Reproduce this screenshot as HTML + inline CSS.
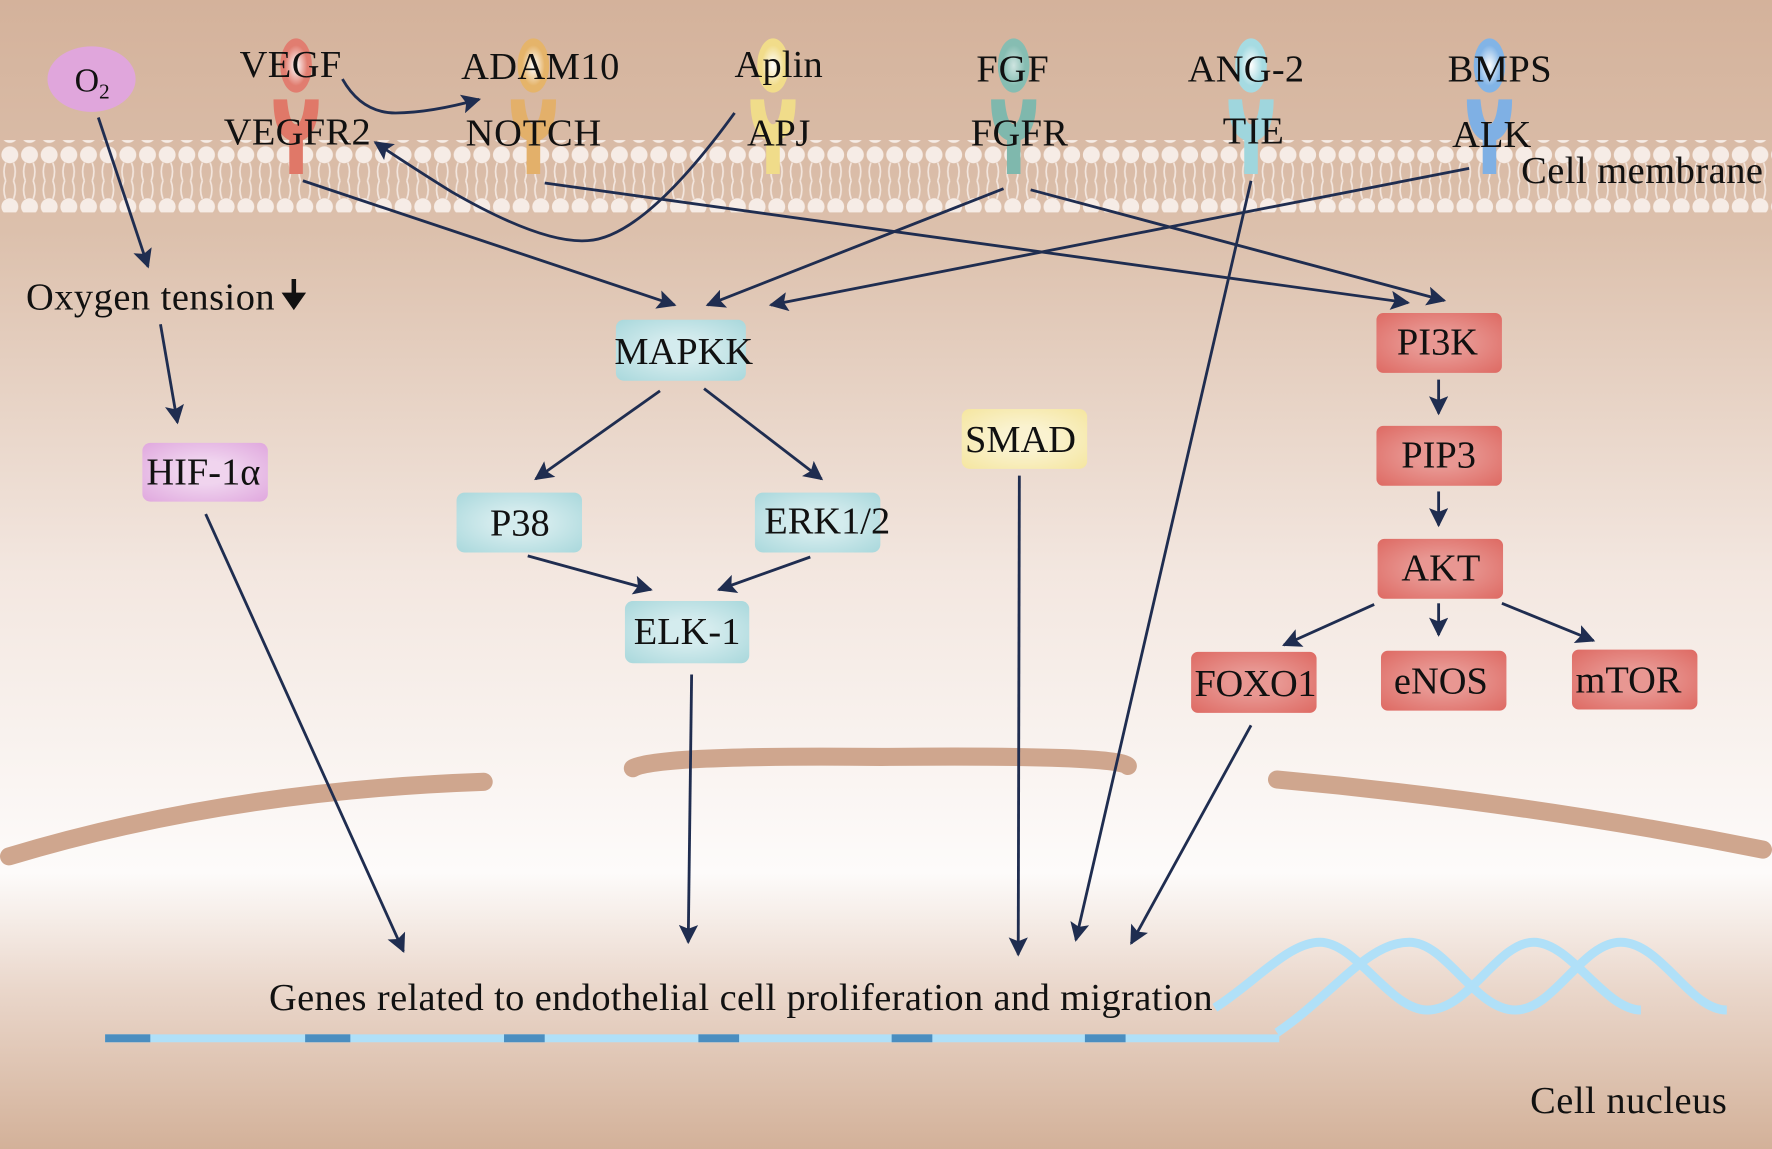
<!DOCTYPE html>
<html><head><meta charset="utf-8"><style>
html,body{margin:0;padding:0;}
svg{display:block;}
text{font-family:"Liberation Serif",serif;fill:#111;}
</style></head><body>
<svg width="1772" height="1149" viewBox="0 0 1568 1017" preserveAspectRatio="none" xmlns="http://www.w3.org/2000/svg">
<defs>
<linearGradient id="bg" x1="0" y1="0" x2="0" y2="1">
<stop offset="0" stop-color="#d4b29b"/>
<stop offset="0.2" stop-color="#dcc0ac"/>
<stop offset="0.5" stop-color="#f3e7e0"/>
<stop offset="0.76" stop-color="#fdfbfa"/>
<stop offset="0.86" stop-color="#ead7cb"/>
<stop offset="1" stop-color="#d3b199"/>
</linearGradient>
<pattern id="mem" x="0" y="0" width="17.4" height="64" patternUnits="userSpaceOnUse">
<circle cx="8.7" cy="9" r="7.5" fill="#f6ece6"/>
<circle cx="8.7" cy="55" r="7.5" fill="#f6ece6"/>
<path d="M5 16 q-3 8 0 16 M12 16 q3 8 0 16 M5 48 q-3 -8 0 -16 M12 48 q3 -8 0 -16" stroke="#f3e6de" stroke-width="1.5" fill="none"/>
</pattern>
<radialGradient id="box" cx="0.5" cy="0.5" r="0.7">
<stop offset="0.3" stop-color="#fff" stop-opacity="0.5"/>
<stop offset="1" stop-color="#fff" stop-opacity="0"/>
</radialGradient>
<radialGradient id="lig" cx="0.5" cy="0.5" r="0.5">
<stop offset="0" stop-color="#fff"/>
<stop offset="1" stop-color="#fff" stop-opacity="0"/>
</radialGradient>
<marker id="A" viewBox="0 0 10 10" refX="9" refY="5" markerWidth="20" markerHeight="17" orient="auto" markerUnits="userSpaceOnUse">
<path d="M0,0 L10,5 L0,10 L2,5 z" fill="#1f2d50"/>
</marker>
</defs>
<rect width="1568" height="1017" fill="url(#bg)"/>
<rect x="0" y="124" width="1568" height="64" fill="url(#mem)"/>

<!-- nucleus envelope -->
<g stroke="#cfa68e" stroke-width="16" stroke-linecap="round" fill="none">
<path d="M8 758 Q200 700 428 692"/>
<path d="M560 680 Q580 668 780 670 Q990 668 998 678"/>
<path d="M1130 690 Q1350 710 1560 752"/>
</g>

<!-- DNA -->
<g fill="none" stroke="#b0e0f8" stroke-width="8">
<path d="M1075 892 C1110 870,1140 834,1168 834 C1200 834,1230 894,1263 894 C1300 894,1325 834,1357 834 C1390 834,1420 894,1452 894"/>
<path d="M1130 914 C1180 880,1210 834,1247 834 C1280 834,1305 894,1341 894 C1375 894,1400 834,1434 834 C1470 834,1495 894,1528 894"/>
</g>
<line x1="93" y1="919" x2="1132" y2="919" stroke="#b0e0f8" stroke-width="7"/>
<g fill="#4b8ec0">
<rect x="93" y="915.5" width="40" height="7"/><rect x="270" y="915.5" width="40" height="7"/><rect x="446" y="915.5" width="36" height="7"/><rect x="618" y="915.5" width="36" height="7"/><rect x="789" y="915.5" width="36" height="7"/><rect x="960" y="915.5" width="36" height="7"/>
</g>

<!-- receptors -->
<g>
<g transform="translate(262,0)"><ellipse cx="0" cy="58" rx="14" ry="24" fill="#e17d70"/><ellipse cx="0" cy="58" rx="10" ry="18" fill="url(#lig)"/><path d="M-20 88 h12 q2 22 8 22 q6 0 8 -22 h12 q0 30 -14 36 v30 h-12 v-30 q-14 -6 -14 -36z" fill="#e07868"/></g>
<g transform="translate(472,0)"><ellipse cx="0" cy="58" rx="14" ry="24" fill="#e5b46a"/><ellipse cx="0" cy="58" rx="10" ry="18" fill="url(#lig)"/><path d="M-20 88 h12 q2 22 8 22 q6 0 8 -22 h12 q0 30 -14 36 v30 h-12 v-30 q-14 -6 -14 -36z" fill="#e3b06a"/></g>
<g transform="translate(684,0)"><ellipse cx="0" cy="58" rx="14" ry="24" fill="#f1dc8a"/><ellipse cx="0" cy="58" rx="10" ry="18" fill="url(#lig)"/><path d="M-20 88 h12 q2 22 8 22 q6 0 8 -22 h12 q0 30 -14 36 v30 h-12 v-30 q-14 -6 -14 -36z" fill="#f0dc8a"/></g>
<g transform="translate(897,0)"><ellipse cx="0" cy="58" rx="14" ry="24" fill="#86bdb2"/><ellipse cx="0" cy="58" rx="10" ry="18" fill="url(#lig)" opacity="0.6"/><path d="M-20 88 h12 q2 22 8 22 q6 0 8 -22 h12 q0 30 -14 36 v30 h-12 v-30 q-14 -6 -14 -36z" fill="#7fb8ad"/></g>
<g transform="translate(1107,0)"><ellipse cx="0" cy="58" rx="14" ry="24" fill="#a6dbe2"/><ellipse cx="0" cy="58" rx="10" ry="18" fill="url(#lig)"/><path d="M-20 88 h12 q2 22 8 22 q6 0 8 -22 h12 q0 30 -14 36 v30 h-12 v-30 q-14 -6 -14 -36z" fill="#9fd6dd"/></g>
<g transform="translate(1318,0)"><ellipse cx="0" cy="58" rx="14" ry="24" fill="#82b4e6"/><ellipse cx="0" cy="58" rx="10" ry="18" fill="url(#lig)"/><path d="M-20 88 h12 q2 22 8 22 q6 0 8 -22 h12 q0 30 -14 36 v30 h-12 v-30 q-14 -6 -14 -36z" fill="#7fb0e4"/></g>
</g>

<!-- O2 -->
<ellipse cx="81" cy="70" rx="39" ry="29" fill="#e0a6dc"/>
<text x="66" y="81" font-size="30">O<tspan font-size="19" dy="6">2</tspan></text>

<!-- labels -->
<g font-size="34">
<text x="212" y="68" textLength="90">VEGF</text>
<text x="408" y="70" textLength="140">ADAM10</text>
<text x="650" y="68" textLength="78">Aplin</text>
<text x="864" y="72" textLength="64">FGF</text>
<text x="1051" y="72" textLength="103">ANG-2</text>
<text x="1281" y="72" textLength="92">BMPS</text>
<text x="198" y="128" textLength="130">VEGFR2</text>
<text x="412" y="129" textLength="120">NOTCH</text>
<text x="661" y="129" textLength="56">APJ</text>
<text x="859" y="129" textLength="86">FGFR</text>
<text x="1082" y="127" textLength="54">TIE</text>
<text x="1285" y="130" textLength="70">ALK</text>
<text x="1346" y="162" textLength="214">Cell membrane</text>
<text x="23" y="274" textLength="220">Oxygen tension</text>
<text x="238" y="894" textLength="835">Genes related to endothelial cell proliferation and migration</text>
<text x="1354" y="985" textLength="174">Cell nucleus</text>
</g>
<path d="M260 247 v16 M253 261 l7 10 l7 -10z" stroke="#111" stroke-width="4" fill="#111"/>

<!-- boxes -->
<g font-size="34" text-anchor="middle">
<g><rect x="545" y="283" width="115" height="54" rx="7" fill="#a9d8dc"/><rect x="545" y="283" width="115" height="54" rx="7" fill="url(#box)"/><text x="605" y="322">MAPKK</text></g>
<g><rect x="404" y="436" width="111" height="53" rx="7" fill="#a9d8dc"/><rect x="404" y="436" width="111" height="53" rx="7" fill="url(#box)"/><text x="460" y="474">P38</text></g>
<g><rect x="668" y="436" width="111" height="53" rx="7" fill="#a9d8dc"/><rect x="668" y="436" width="111" height="53" rx="7" fill="url(#box)"/><text x="732" y="472">ERK1/2</text></g>
<g><rect x="553" y="532" width="110" height="55" rx="7" fill="#a9d8dc"/><rect x="553" y="532" width="110" height="55" rx="7" fill="url(#box)"/><text x="608" y="570">ELK-1</text></g>
<g><rect x="851" y="362" width="111" height="53" rx="7" fill="#f5e6a0"/><rect x="851" y="362" width="111" height="53" rx="7" fill="url(#box)"/><text x="903" y="400">SMAD</text></g>
<g><rect x="126" y="392" width="111" height="52" rx="7" fill="#e0a8de"/><rect x="126" y="392" width="111" height="52" rx="7" fill="url(#box)"/><text x="180" y="429">HIF-1α</text></g>
</g>
<g font-size="34" text-anchor="middle">
<g><rect x="1218" y="277" width="111" height="53" rx="6" fill="#de6a63"/><rect x="1218" y="277" width="111" height="53" rx="6" fill="url(#box)" opacity="0.6"/><text x="1272" y="314">PI3K</text></g>
<g><rect x="1218" y="377" width="111" height="53" rx="6" fill="#de6a63"/><rect x="1218" y="377" width="111" height="53" rx="6" fill="url(#box)" opacity="0.6"/><text x="1273" y="414">PIP3</text></g>
<g><rect x="1219" y="477" width="111" height="53" rx="6" fill="#de6a63"/><rect x="1219" y="477" width="111" height="53" rx="6" fill="url(#box)" opacity="0.6"/><text x="1275" y="514">AKT</text></g>
<g><rect x="1054" y="577" width="111" height="54" rx="6" fill="#de6a63"/><rect x="1054" y="577" width="111" height="54" rx="6" fill="url(#box)" opacity="0.6"/><text x="1111" y="616" textLength="108">FOXO1</text></g>
<g><rect x="1222" y="576" width="111" height="53" rx="6" fill="#de6a63"/><rect x="1222" y="576" width="111" height="53" rx="6" fill="url(#box)" opacity="0.6"/><text x="1275" y="614">eNOS</text></g>
<g><rect x="1391" y="575" width="111" height="53" rx="6" fill="#de6a63"/><rect x="1391" y="575" width="111" height="53" rx="6" fill="url(#box)" opacity="0.6"/><text x="1441" y="613">mTOR</text></g>
</g>

<!-- connectors -->
<g stroke="#1f2d50" stroke-width="2.5" fill="none" marker-end="url(#A)">
<path d="M303 70 Q320 100 350 100 Q380 100 424 88"/>
<path d="M650 100 Q570 210 520 213 Q480 216 400 170 Q360 145 332 126"/>
<line x1="87" y1="104" x2="131" y2="236"/>
<line x1="142" y1="287" x2="157" y2="374"/>
<line x1="182" y1="455" x2="357" y2="842"/>
<line x1="268" y1="160" x2="597" y2="270"/>
<line x1="888" y1="167" x2="626" y2="270"/>
<line x1="1300" y1="149" x2="682" y2="270"/>
<line x1="482" y1="162" x2="1246" y2="268"/>
<line x1="912" y1="168" x2="1278" y2="266"/>
<line x1="1107" y1="160" x2="952" y2="832"/>
<line x1="584" y1="346" x2="474" y2="424"/>
<line x1="623" y1="344" x2="727" y2="424"/>
<line x1="467" y1="492" x2="576" y2="522"/>
<line x1="717" y1="493" x2="636" y2="522"/>
<line x1="612" y1="597" x2="609" y2="834"/>
<line x1="902" y1="421" x2="901" y2="845"/>
<line x1="1107" y1="642" x2="1001" y2="835"/>
<line x1="1273" y1="336" x2="1273" y2="366"/>
<line x1="1273" y1="435" x2="1273" y2="465"/>
<line x1="1216" y1="535" x2="1136" y2="571"/>
<line x1="1273" y1="534" x2="1273" y2="562"/>
<line x1="1329" y1="534" x2="1410" y2="567"/>
</g>
</svg>
</body></html>
